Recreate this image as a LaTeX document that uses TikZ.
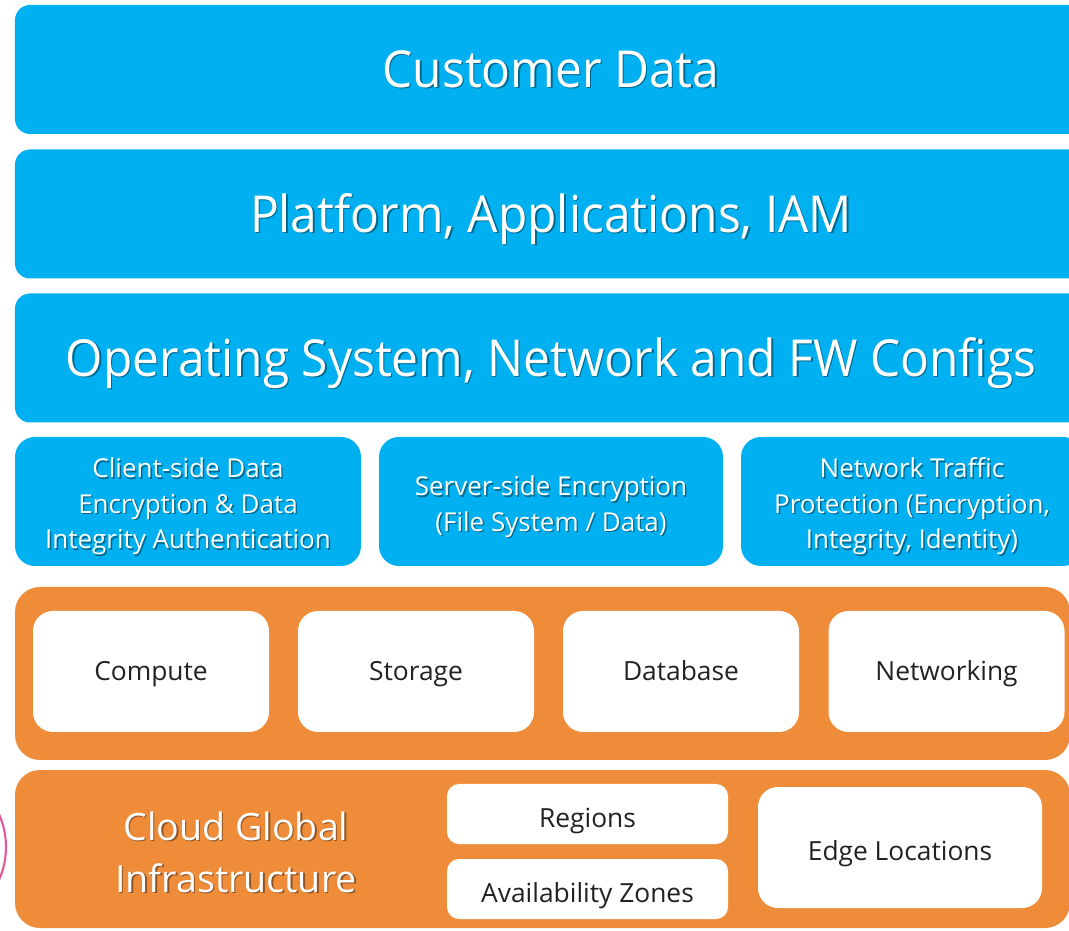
\documentclass[tikz,border=0pt]{standalone}
\usepackage{fontspec}
\setmainfont{Open Sans}
\newfontfamily\bannerfont[FakeStretch=0.94]{Open Sans}
\definecolor{skyblue}{HTML}{00B0F0}
\definecolor{tangerine}{HTML}{EF8C3A}
\definecolor{inkgray}{HTML}{222222}
\definecolor{rosering}{HTML}{E2579A}
\newcommand{\shtext}[2][black!40!skyblue]{\leavevmode\rlap{\kern0.4pt\raisebox{-0.4pt}{\textcolor{#1}{#2}}}#2}
\newcommand{\topgap}{\rule{0pt}{9pt}}
\tikzset{
layer/.style={fill=skyblue, rounded corners=0.15cm, text=white, inner sep=0pt,
  minimum width=10.72cm, minimum height=1.29cm, text height=10.3pt, text depth=0pt,
  font=\bannerfont\fontsize{14.5}{17}\selectfont},
guard/.style={fill=skyblue, rounded corners=0.2cm, text=white, inner sep=0pt, align=center,
  minimum height=1.29cm, font=\fontsize{7.4}{10.1}\selectfont},
tray/.style={fill=tangerine, rounded corners=0.25cm, inner sep=0pt, minimum width=10.55cm},
service/.style={fill=white, rounded corners=0.2cm, text=inkgray, inner sep=0pt,
  minimum width=2.36cm, minimum height=1.21cm, text height=5.3pt, text depth=0pt,
  font=\fontsize{7.5}{9}\selectfont},
zone/.style={fill=white, rounded corners=0.12cm, text=inkgray, inner sep=0pt,
  minimum width=2.81cm, minimum height=0.60cm, text height=7.6pt, text depth=0pt,
  font=\fontsize{7.5}{9}\selectfont}
}
\begin{document}
\begin{tikzpicture}
\useasboundingbox (0,0) rectangle (10.69,9.30);
\clip (0,0) rectangle (10.69,9.30);
\node[layer] (custdata) at (5.51,8.605) {\shtext{Customer Data}};
\node[layer] (platform) at (5.51,7.16) {\shtext{Platform, Applications, IAM}};
\node[layer] (opsys) at (5.51,5.72) {\shtext{Operating System, Network and FW Configs}};
\node[guard, minimum width=3.46cm] (clientenc) at (1.88,4.285)
  {\topgap\shtext{Client-side Data}\\\shtext{Encryption \& Data}\\\shtext{Integrity Authentication}};
\node[guard, minimum width=3.44cm] (serverenc) at (5.51,4.285)
  {\topgap\shtext{Server-side Encryption}\\\shtext{(File System / Data)}};
\node[guard, minimum width=3.42cm] (traffic) at (9.12,4.285)
  {\topgap\shtext{Network Traffic}\\\shtext{Protection (Encryption,}\\\shtext{Integrity, Identity)}};
\node[tray, minimum height=1.73cm] (foundation) at (5.425,2.565) {};
\node[service] (compute) at (1.51,2.585) {Compute};
\node[service] (storage) at (4.16,2.585) {Storage};
\node[service] (database) at (6.81,2.585) {Database};
\node[service] (networking) at (9.465,2.585) {Networking};
\node[tray, minimum height=1.58cm] (globalinfra) at (5.425,0.81) {};
\node[text=white, align=center, font=\fontsize{10.7}{14.8}\selectfont] (cloudlbl) at (2.36,0.77)
  {\shtext[black!40!tangerine]{Cloud Global}\\\shtext[black!40!tangerine]{Infrastructure}};
\node[zone] (regions) at (5.875,1.16) {Regions};
\node[zone] (azones) at (5.875,0.41) {Availability Zones};
\node[service, minimum width=2.84cm, text height=7.6pt] (edgeloc) at (9.00,0.825) {Edge Locations};
\draw[rosering, line width=0.6pt] (-0.745,0.83) circle [radius=0.805];
\end{tikzpicture}
\end{document}
